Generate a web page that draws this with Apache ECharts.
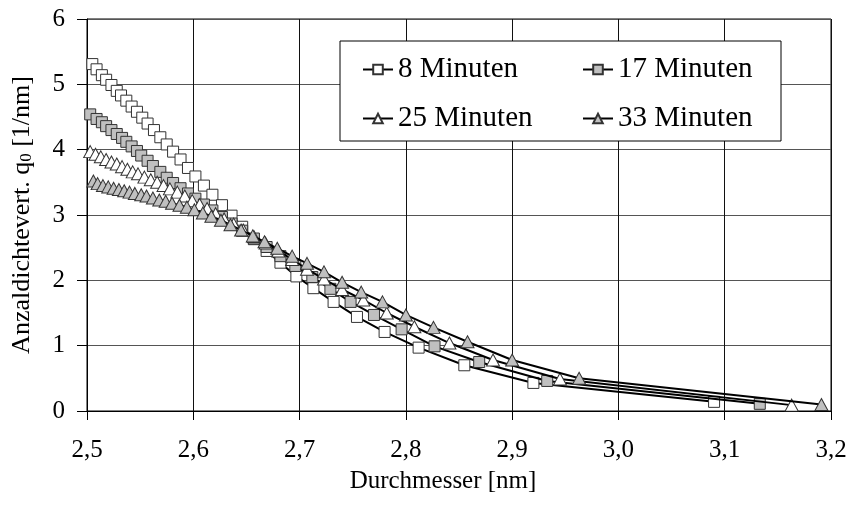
<!DOCTYPE html>
<html>
<head>
<meta charset="utf-8">
<script src="https://cdn.jsdelivr.net/npm/echarts@6/dist/echarts.min.js"></script>
<style>html,body{margin:0;padding:0;background:#fff}#c{width:852px;height:517px}</style>
</head>
<body>
<div id="c"></div>
<script>
const seriesNames = ['8 Minuten', '17 Minuten', '25 Minuten', '33 Minuten'];
const xTickLabels = ['2,5', '2,6', '2,7', '2,8', '2,9', '3,0', '3,1', '3,2'];
const yTickLabels = ['0', '1', '2', '3', '4', '5', '6'];
const xTitle = 'Durchmesser [nm]';
const yTitle = 'Anzaldichtevert. q{s|0} [1/nm]';

const x8 = [2.505,2.509,2.514,2.518,2.523,2.528,2.532,2.537,2.542,2.547,2.552,2.557,2.563,2.569,2.575,2.581,2.588,2.595,2.602,2.610,2.618,2.627,2.636,2.646,2.657,2.669,2.682,2.697,2.713,2.732,2.754,2.780,2.812,2.855,2.920,3.090];
const y8 = [5.31,5.23,5.14,5.07,4.99,4.90,4.83,4.75,4.66,4.58,4.49,4.40,4.30,4.19,4.08,3.97,3.85,3.72,3.59,3.45,3.31,3.15,2.99,2.82,2.63,2.45,2.27,2.06,1.88,1.67,1.44,1.21,0.97,0.70,0.43,0.14];

const x17 = [2.503,2.509,2.514,2.518,2.523,2.528,2.533,2.537,2.542,2.547,2.551,2.557,2.562,2.569,2.575,2.581,2.588,2.595,2.602,2.610,2.618,2.627,2.636,2.646,2.657,2.669,2.682,2.696,2.712,2.729,2.748,2.770,2.796,2.827,2.869,2.933,3.133];
const y17 = [4.54,4.47,4.42,4.36,4.30,4.24,4.18,4.12,4.05,3.98,3.91,3.83,3.75,3.66,3.57,3.49,3.41,3.33,3.25,3.16,3.07,2.97,2.87,2.76,2.64,2.51,2.37,2.22,2.05,1.87,1.67,1.47,1.25,0.99,0.75,0.46,0.11];

const x25 = [2.503,2.508,2.513,2.518,2.523,2.528,2.533,2.538,2.543,2.548,2.554,2.560,2.566,2.572,2.578,2.585,2.592,2.599,2.606,2.613,2.621,2.629,2.638,2.647,2.657,2.668,2.680,2.693,2.707,2.723,2.740,2.760,2.782,2.808,2.841,2.882,2.945,3.163];
const y25 = [3.97,3.93,3.89,3.85,3.81,3.78,3.74,3.70,3.66,3.63,3.58,3.54,3.50,3.45,3.40,3.35,3.29,3.22,3.16,3.10,3.02,2.94,2.86,2.77,2.67,2.57,2.45,2.32,2.17,2.02,1.86,1.70,1.50,1.29,1.04,0.78,0.49,0.09];

const x33 = [2.506,2.510,2.515,2.520,2.525,2.530,2.535,2.540,2.545,2.551,2.556,2.562,2.568,2.574,2.580,2.587,2.594,2.601,2.609,2.617,2.626,2.635,2.645,2.656,2.667,2.679,2.693,2.707,2.723,2.740,2.758,2.778,2.800,2.826,2.858,2.900,2.963,3.191];
const y33 = [3.52,3.48,3.45,3.43,3.41,3.39,3.37,3.35,3.33,3.31,3.29,3.26,3.23,3.21,3.18,3.15,3.12,3.08,3.03,2.98,2.92,2.85,2.77,2.68,2.59,2.49,2.37,2.26,2.13,1.97,1.82,1.67,1.47,1.28,1.06,0.78,0.50,0.10];

const FONT = '"Liberation Serif", "Times New Roman", serif';
const zip = (xs, ys) => xs.map((x, i) => [x, ys[i]]);

const styles = [
  {symbol: 'rect', size: 11, fill: '#ffffff'},
  {symbol: 'rect', size: 11, fill: '#c0c0c0'},
  {symbol: 'triangle', size: [13, 12], fill: '#ffffff'},
  {symbol: 'triangle', size: [13, 12], fill: '#c0c0c0'}
];
const dataSets = [zip(x8, y8), zip(x17, y17), zip(x25, y25), zip(x33, y33)];

const series = seriesNames.map((name, i) => ({
  name: name,
  type: 'line',
  data: dataSets[i],
  symbol: styles[i].symbol,
  symbolSize: styles[i].size,
  showAllSymbol: true,
  lineStyle: {color: '#000', width: 2},
  itemStyle: {color: styles[i].fill, borderColor: '#333', borderWidth: 1},
  emphasis: {disabled: true},
  animation: false,
  z: 3 + i
}));

const legendPos = [[362, 55], [582, 55], [362, 104], [582, 104]];
const legends = seriesNames.map((name, i) => ({
  data: [name],
  left: legendPos[i][0],
  top: legendPos[i][1],
  padding: 0,
  itemWidth: 30,
  itemHeight: 12,
  selectedMode: false,
  textStyle: {fontFamily: FONT, fontSize: 29, color: '#000'},
  z: 20
}));

const chart = echarts.init(document.getElementById('c'), null, {renderer: 'canvas'});
chart.setOption({
  backgroundColor: '#fff',
  animation: false,
  grid: {left: 87, right: 21, top: 19, bottom: 106, show: true, borderColor: '#000', borderWidth: 1},
  legend: legends,
  graphic: [{
    type: 'rect',
    shape: {x: 340, y: 41, width: 441, height: 100},
    style: {fill: '#fff', stroke: '#000', lineWidth: 1},
    z: 15
  }, {
    type: 'text',
    x: 22, y: 215,
    rotation: Math.PI / 2,
    style: {
      text: yTitle,
      fontFamily: FONT, fontSize: 26, fill: '#000',
      align: 'center', verticalAlign: 'middle',
      rich: {s: {fontFamily: FONT, fontSize: 17, fill: '#000', verticalAlign: 'bottom', padding: [10, 0, 0, 0]}}
    },
    z: 10
  }],
  xAxis: {
    type: 'value', min: 2.5, max: 3.2, interval: 0.1,
    name: xTitle, nameLocation: 'middle', nameGap: 58,
    nameTextStyle: {fontFamily: FONT, fontSize: 25, color: '#000', padding: [0, 32, 0, 0]},
    axisLine: {show: true, onZero: false, lineStyle: {color: '#000', width: 1}},
    axisTick: {show: true, inside: false, length: 9, lineStyle: {color: '#000'}},
    axisLabel: {fontFamily: FONT, fontSize: 25, color: '#000', margin: 27,
      formatter: (v) => xTickLabels[Math.round((v - 2.5) * 10)]},
    splitLine: {show: true, lineStyle: {color: '#111', width: 1}}
  },
  yAxis: {
    type: 'value', min: 0, max: 6, interval: 1,
    axisLine: {show: true, onZero: false, lineStyle: {color: '#000', width: 1}},
    axisTick: {show: true, inside: false, length: 10, lineStyle: {color: '#000'}},
    axisLabel: {fontFamily: FONT, fontSize: 25, color: '#000', margin: 22,
      formatter: (v) => yTickLabels[Math.round(v)]},
    splitLine: {show: true, lineStyle: {color: '#555', width: 1}}
  },
  series: series
});
</script>
</body>
</html>
